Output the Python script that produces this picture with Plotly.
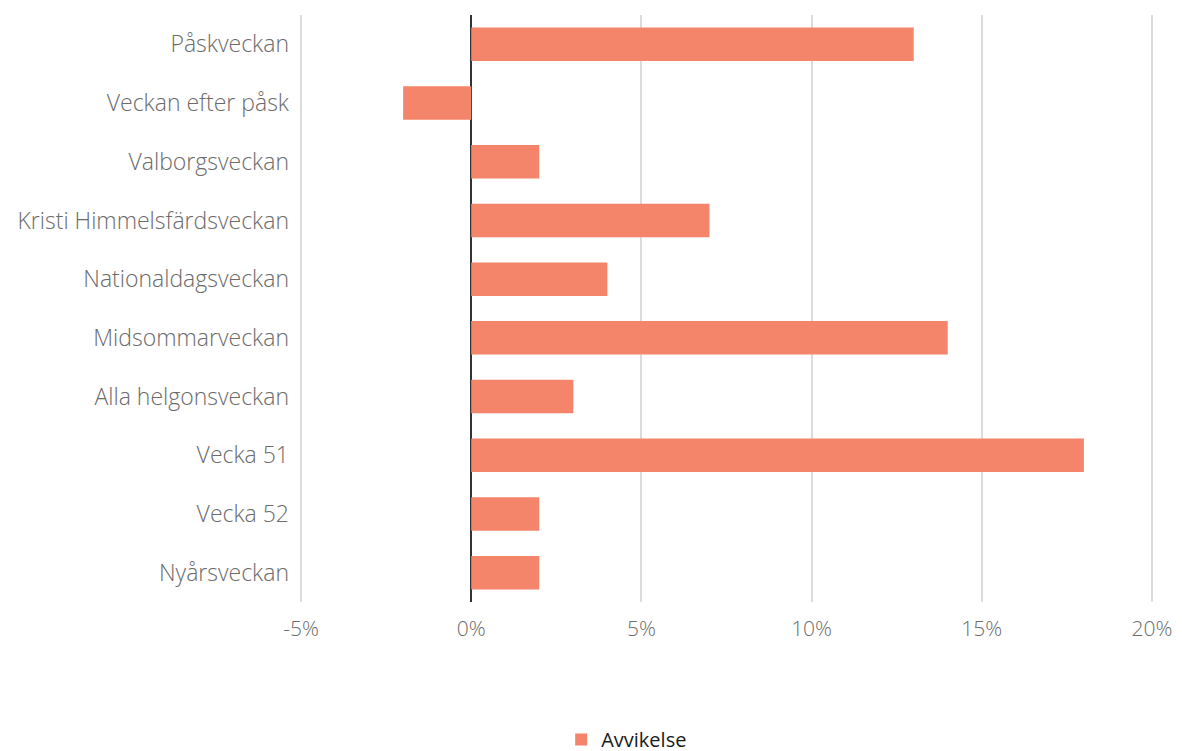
import plotly.graph_objects as go

categories = ["Påskveckan", "Veckan efter påsk", "Valborgsveckan", "Kristi Himmelsfärdsveckan",
              "Nationaldagsveckan", "Midsommarveckan", "Alla helgonsveckan", "Vecka 51",
              "Vecka 52", "Nyårsveckan"]
values = [13, -2, 2, 7, 4, 14, 3, 18, 2, 2]
x_ticks = [-5, 0, 5, 10, 15, 20]
x_tick_labels = ["-5%", "0%", "5%", "10%", "15%", "20%"]
series_name = "Avvikelse"

fig = go.Figure()
fig.add_trace(go.Bar(
    y=categories, x=values, orientation="h", name=series_name,
    marker=dict(color="#F4846A", line=dict(width=0)),
    showlegend=True,
))

fig.update_layout(
    width=1182, height=751,
    margin=dict(l=292, r=37, t=7, b=157, autoexpand=False),
    paper_bgcolor="white", plot_bgcolor="white",
    bargap=0.43,
    font=dict(family="Open Sans", size=21, color="#6b6b6b", weight=300),
    xaxis=dict(range=[-5.03, 20.03], tickvals=x_ticks, ticktext=x_tick_labels,
               showgrid=True, gridcolor="#dcdcdc", gridwidth=2,
               zeroline=True, zerolinecolor="#333333", zerolinewidth=2,
               showline=False, ticks="", ticklabelstandoff=12,
               tickfont=dict(size=21)),
    yaxis=dict(autorange="reversed", showgrid=False, showline=False, ticks="",
               ticklabelstandoff=10, tickfont=dict(size=23)),
    legend=dict(orientation="h", xref="container", yref="container",
                x=0.468, xanchor="left", y=0, yanchor="bottom", itemwidth=30,
                font=dict(family="Open Sans", size=20, color="#1a1a1a", weight=400)),
)

fig.write_html("out.html")
